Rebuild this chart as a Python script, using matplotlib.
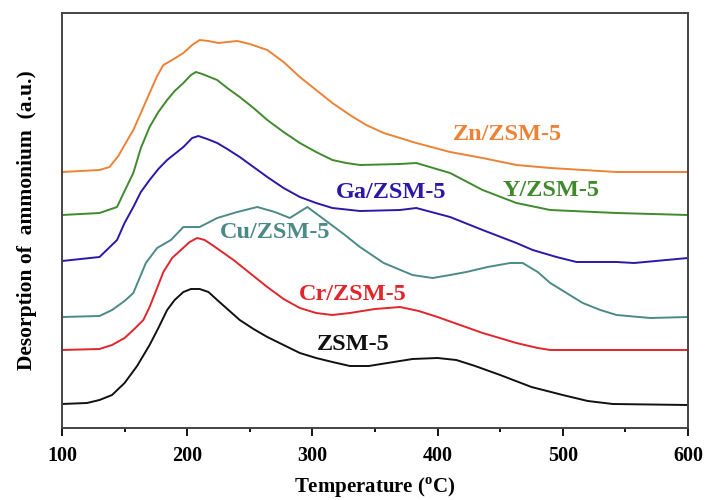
import matplotlib
matplotlib.use("Agg")
import matplotlib.pyplot as plt
from matplotlib.ticker import MultipleLocator

plt.rcParams['font.family'] = ['Liberation Serif', 'DejaVu Serif']
plt.rcParams['mathtext.fontset'] = 'custom'
plt.rcParams['mathtext.bf'] = 'Liberation Serif:bold'
plt.rcParams['mathtext.rm'] = 'Liberation Serif:bold'

# NH3-TPD profiles (stacked, arbitrary units)
t_zsm = [100, 120, 130, 140, 150, 160, 170, 177, 184, 190, 197, 203, 210, 217, 224, 233,
         242, 253, 264, 277, 290, 303, 316, 330, 345, 360, 380, 400, 415, 430, 450, 475,
         500, 520, 540, 600]
zsm = [24, 25, 28, 33, 45, 62, 83, 100, 118, 128, 136, 139, 139, 136, 128, 118,
       108, 99, 91, 83, 75, 70, 66, 62, 62, 65, 69, 70, 68, 62, 53, 41,
       33, 27, 24, 23]

t_cr = [100, 130, 140, 150, 157, 165, 170, 176, 181, 188, 195, 202, 208, 214, 220, 228,
        237, 250, 264, 277, 290, 303, 316, 330, 350, 370, 385, 400, 418, 436, 463, 480,
        490, 530, 600]
cr = [78, 79, 83, 90, 98, 108, 121, 140, 156, 170, 178, 186, 190, 188, 183, 176,
      168, 155, 141, 129, 120, 115, 113, 115, 119, 121, 117, 111, 103, 95, 85, 80,
      78, 78, 78]

t_cu = [100, 130, 140, 150, 157, 162, 167, 176, 187, 197, 210, 224, 240, 256, 270, 282,
        296, 310, 325, 338, 357, 380, 396, 410, 423, 440, 458, 468, 480, 490, 503, 516,
        530, 543, 570, 600]
cu = [111, 112, 118, 127, 135, 150, 165, 180, 188, 201, 201, 210, 216, 221, 216, 210,
      221, 208, 194, 181, 165, 153, 150, 153, 156, 161, 165, 165, 156, 145, 135, 125,
      118, 113, 110, 111]

t_ga = [100, 130, 144, 150, 157, 163, 170, 177, 184, 190, 197, 204, 209, 216, 224, 232,
        242, 253, 264, 277, 290, 303, 316, 338, 370, 383, 410, 436, 463, 476, 495, 511,
        543, 557, 600]
ga = [167, 171, 188, 205, 221, 236, 248, 259, 268, 274, 281, 290, 292, 289, 285, 279,
      271, 261, 251, 240, 231, 225, 220, 217, 218, 220, 211, 198, 185, 178, 171, 166,
      166, 165, 170]

t_y = [100, 130, 144, 150, 157, 163, 170, 177, 184, 190, 197, 203, 207, 212, 218, 224,
       232, 242, 253, 264, 277, 290, 303, 316, 327, 338, 370, 383, 410, 436, 463, 490,
       543, 600]
yy = [213, 215, 221, 237, 255, 280, 301, 316, 328, 337, 345, 353, 356, 354, 351, 348,
      340, 331, 320, 308, 296, 285, 276, 268, 265, 263, 264, 265, 255, 238, 225, 218,
      215, 213]

t_zn = [100, 130, 138, 145, 150, 157, 163, 170, 176, 181, 188, 197, 204, 210, 217, 225,
        232, 240, 250, 264, 277, 290, 303, 316, 330, 343, 357, 383, 410, 436, 463, 490,
        543, 600]
zn = [256, 258, 261, 272, 283, 298, 315, 335, 352, 363, 368, 375, 383, 388, 387, 385,
      386, 387, 384, 378, 366, 351, 338, 325, 313, 303, 295, 285, 276, 270, 263, 260,
      256, 256]

fig = plt.figure(figsize=(7.09, 5.0), dpi=100)
ax = fig.add_axes([0.0874, 0.144, 0.8829, 0.830])

lw = 1.4
ax.plot(t_zsm, zsm, color='#111111', lw=lw)
ax.plot(t_cr, cr, color='#e0262c', lw=lw)
ax.plot(t_cu, cu, color='#4b8a87', lw=lw)
ax.plot(t_ga, ga, color='#2a18a8', lw=lw)
ax.plot(t_y, yy, color='#3f8a2c', lw=lw)
ax.plot(t_zn, zn, color='#ec8236', lw=lw)

lab = dict(fontsize=17.5, fontweight='bold', ha='center', va='center')
ax.text(333, 83, 'ZSM-5', color='#111111', **lab)
ax.text(332, 133, 'Cr/ZSM-5', color='#e0262c', **lab)
ax.text(270, 195, 'Cu/ZSM-5', color='#4b8a87', **lab)
ax.text(363, 235, 'Ga/ZSM-5', color='#2a18a8', **lab)
ax.text(491, 238, 'Y/ZSM-5', color='#3f8a2c', **lab)
ax.text(456, 293, 'Zn/ZSM-5', color='#ec8236', **lab)

ax.set_xlim(100, 600)
ax.set_ylim(0, 415)
ax.xaxis.set_major_locator(MultipleLocator(100))
ax.xaxis.set_minor_locator(MultipleLocator(50))
ax.tick_params(axis='x', which='major', length=6, width=1.3, labelsize=14.5, pad=7)
ax.tick_params(axis='x', which='minor', length=3, width=1.3)
ax.set_yticks([])
for lbl in ax.get_xticklabels():
    lbl.set_fontweight('bold')
for s in ax.spines.values():
    s.set_linewidth(1.4)
    s.set_color('#444444')

ax.set_xlabel(r'Temperature ($^{\mathbf{o}}$C)', fontsize=15, fontweight='bold', labelpad=7)
ax.set_ylabel('Desorption of  ammonium  (a.u.)', fontsize=15.5, fontweight='bold', labelpad=18)

fig.savefig('out.png', dpi=100)
